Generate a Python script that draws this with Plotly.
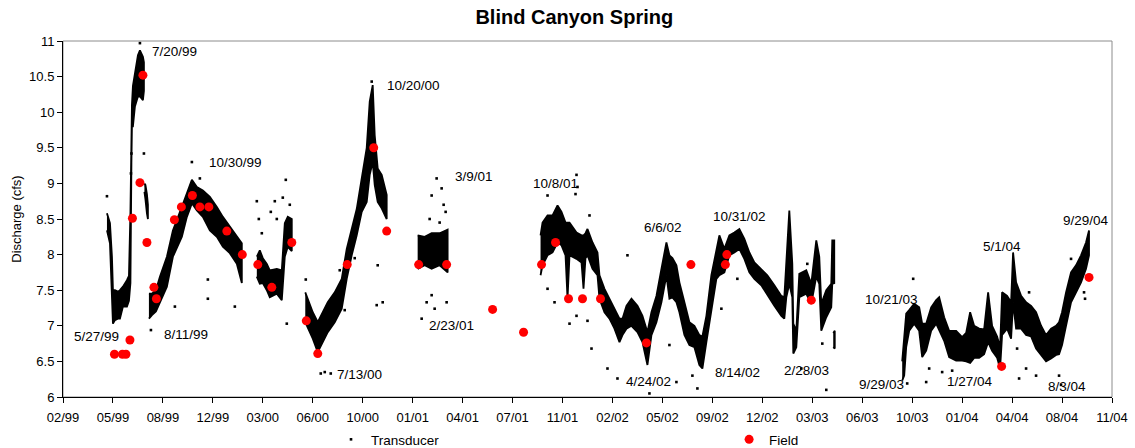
import plotly.graph_objects as go
import pandas as pd

# ---------------- Data ----------------
# Transducer record, summarised as the lower / upper edge of the dense band of readings.
# None separates the recording periods (gaps in the record).
trans_dates = [
    "1999-05-08", "1999-05-14", "1999-05-18", "1999-05-20", "1999-05-24", "1999-05-30",
    "1999-06-03", "1999-06-09", "1999-06-17", "1999-06-21", "1999-06-24", "1999-06-26",
    "1999-06-27", "1999-06-29", "1999-07-03", "1999-07-09", "1999-07-13", "1999-07-19",
    "1999-07-21", None,
    "1999-07-22", "1999-07-24", "1999-07-27", "1999-07-29", None,
    "1999-07-31", "1999-08-06", "1999-08-14", "1999-08-22", "1999-09-05", "1999-09-17",
    "1999-10-05", "1999-10-15", "1999-10-25", "1999-11-04", "1999-11-16", "1999-11-30",
    "1999-12-14", "1999-12-26", "2000-01-09", "2000-01-23", "2000-02-02", None,
    "2000-03-03", "2000-03-09", "2000-03-15", "2000-03-23", "2000-03-29", "2000-04-12",
    "2000-04-22", "2000-04-26", "2000-04-28", "2000-05-04", "2000-05-12", None,
    "2000-06-08", "2000-06-13", "2000-06-23", "2000-07-03", "2000-07-13", "2000-07-23",
    "2000-08-06", "2000-08-20", "2000-08-30", "2000-09-09", "2000-09-19", "2000-09-29",
    "2000-10-09", "2000-10-15", "2000-10-21", "2000-10-25", "2000-10-31", "2000-11-08",
    "2000-11-18", None,
    "2001-01-19", "2001-02-02", "2001-02-16", "2001-03-04", "2001-03-20", None,
    "2001-09-22", "2001-09-26", "2001-10-06", "2001-10-16", "2001-10-26", "2001-11-03",
    "2001-11-11", "2001-11-15", "2001-11-19", "2001-12-03", "2001-12-13", "2001-12-17",
    "2001-12-21", "2001-12-25", "2002-01-04", "2002-01-14", "2002-01-18", "2002-01-28",
    "2002-02-07", "2002-02-17", "2002-02-27", "2002-03-05", "2002-03-13", "2002-03-23",
    "2002-04-04", "2002-04-14", "2002-04-24", "2002-05-02", "2002-05-12", "2002-05-22",
    "2002-06-01", "2002-06-07", "2002-06-13", "2002-06-21", "2002-06-27", "2002-07-07",
    "2002-07-17", "2002-07-27", "2002-08-06", "2002-08-12", "2002-08-20", "2002-08-30",
    "2002-09-09", "2002-09-15", "2002-09-25", "2002-10-05", "2002-10-15", "2002-10-25",
    "2002-11-04", "2002-11-14", "2002-11-24", "2002-12-08", "2002-12-20", "2003-01-03",
    "2003-01-17", "2003-01-23", "2003-01-27", "2003-02-02", "2003-02-08", "2003-02-10",
    "2003-02-16", "2003-02-22", "2003-03-08", "2003-03-18", "2003-03-28", "2003-04-03",
    "2003-04-07", "2003-04-17", "2003-04-27", "2003-04-29", "2003-05-03", None,
    "2003-05-01", "2003-05-04", None,
    "2003-09-16", "2003-09-20", "2003-09-24", "2003-09-30", "2003-10-10", "2003-10-20",
    "2003-10-26", "2003-11-03", "2003-11-13", "2003-11-23", "2003-11-29", "2003-12-09",
    "2003-12-19", "2004-01-02", "2004-01-14", "2004-01-22", "2004-01-30", "2004-02-07",
    "2004-02-17", "2004-02-27", "2004-03-06", "2004-03-14", "2004-03-24", "2004-03-30",
    "2004-04-03", "2004-04-13", "2004-04-21", "2004-04-25", "2004-05-01", "2004-05-11",
    "2004-05-21", "2004-05-31", "2004-06-10", "2004-06-20", "2004-06-30", "2004-07-10",
    "2004-07-20", "2004-07-26", "2004-08-01", "2004-08-09", "2004-08-19", "2004-08-29",
    "2004-09-08", "2004-09-18", "2004-09-24",
]
trans_low = [
    8.34, 8.16, 7.50, 7.03, 7.08, 7.10,
    7.10, 7.27, 7.27, 7.35, 7.60, 9.30,
    9.80, 9.80, 10.08, 10.22, 10.22, 10.17,
    10.30, None,
    8.88, 8.78, 8.58, 8.50, None,
    7.10, 7.15, 7.20, 7.31, 7.55, 7.97,
    8.25, 8.53, 8.72, 8.62, 8.53, 8.34,
    8.25, 8.11, 8.02, 7.87, 7.60, None,
    7.69, 7.59, 7.60, 7.50, 7.40, 7.45,
    7.36, 7.80, 7.97, 8.11, 8.05, None,
    7.05, 6.96, 6.82, 6.63, 6.77, 6.91,
    7.05, 7.24, 7.66, 7.99, 8.27, 8.60,
    8.74, 9.12, 9.30, 8.98, 8.74, 8.65,
    8.50, None,
    7.80, 7.85, 7.80, 7.85, 7.75, None,
    7.71, 7.85, 7.99, 8.03, 8.17, 8.13,
    7.99, 7.38, 7.99, 7.94, 7.89, 7.52,
    7.95, 7.99, 7.80, 7.71, 7.38, 7.19,
    7.10, 6.96, 6.77, 6.87, 6.96, 7.00,
    6.91, 6.77, 6.45, 6.87, 7.05, 7.33,
    7.71, 7.38, 7.40, 7.33, 7.19, 6.87,
    6.73, 6.70, 6.45, 6.40, 6.77, 7.24,
    7.66, 7.71, 7.75, 7.99, 8.03, 8.08,
    7.94, 7.75, 7.66, 7.57, 7.43, 7.28,
    7.14, 7.10, 7.40, 7.59, 7.40, 6.61,
    6.70, 7.40, 7.45, 7.31, 7.69, 7.59,
    6.93, 7.12, 7.26, 7.59, 7.60, None,
    6.70, 6.68, None,
    6.23, 6.30, 6.70, 6.93, 7.03, 6.93,
    6.56, 6.65, 6.93, 7.03, 6.93, 6.79,
    6.56, 6.51, 6.51, 6.50, 6.48, 6.55,
    6.55, 6.60, 6.77, 6.65, 6.55, 6.40,
    6.87, 6.96, 6.82, 7.33, 6.96, 6.96,
    6.87, 6.85, 6.68, 6.59, 6.50, 6.54,
    6.59, 6.60, 6.73, 7.00, 7.33, 7.47,
    7.61, 7.80, 7.99,
]
trans_high = [
    8.58, 8.44, 7.97, 7.50, 7.50, 7.48,
    7.50, 7.55, 7.64, 7.70, 8.60, 9.90,
    10.10, 10.37, 10.55, 10.80, 10.87, 10.78,
    10.70, None,
    9.00, 8.98, 8.85, 8.70, None,
    7.45, 7.45, 7.50, 7.69, 7.97, 8.34,
    8.67, 8.86, 9.05, 8.95, 8.90, 8.81,
    8.67, 8.53, 8.39, 8.25, 8.16, None,
    7.97, 8.06, 7.95, 7.87, 7.78, 7.80,
    7.78, 8.30, 8.44, 8.53, 8.50, None,
    7.47, 7.38, 7.19, 7.05, 7.19, 7.33,
    7.47, 7.66, 8.08, 8.36, 8.64, 9.07,
    9.50, 10.15, 10.38, 9.68, 9.21, 9.12,
    8.84, None,
    8.27, 8.25, 8.30, 8.30, 8.35, None,
    8.27, 8.45, 8.55, 8.55, 8.69, 8.60,
    8.45, 8.45, 8.45, 8.31, 8.27, 8.27,
    8.30, 8.36, 8.17, 8.03, 7.71, 7.52,
    7.38, 7.24, 7.10, 7.10, 7.28, 7.38,
    7.28, 7.14, 6.91, 7.19, 7.42, 7.80,
    8.17, 7.99, 7.95, 7.85, 7.61, 7.33,
    7.05, 7.00, 6.87, 6.85, 7.14, 7.71,
    8.08, 8.27, 8.08, 8.27, 8.31, 8.36,
    8.22, 8.03, 7.89, 7.80, 7.71, 7.57,
    7.42, 7.40, 7.87, 8.62, 7.87, 7.03,
    6.93, 7.73, 7.78, 7.59, 8.20, 7.97,
    7.31, 7.50, 7.59, 8.20, 8.20, None,
    6.90, 6.93, None,
    6.50, 6.90, 7.17, 7.22, 7.31, 7.26,
    7.03, 7.03, 7.26, 7.36, 7.40, 7.12,
    6.93, 6.93, 6.84, 6.90, 7.19, 7.00,
    6.96, 6.95, 7.47, 7.00, 6.85, 6.70,
    7.47, 7.42, 7.33, 8.03, 7.61, 7.42,
    7.33, 7.28, 7.19, 7.00, 6.87, 6.96,
    7.00, 7.05, 7.19, 7.47, 7.75, 7.85,
    7.99, 8.17, 8.34,
]

# Isolated transducer readings lying outside the dense band
scatter_dates = [
    "1999-05-08", "1999-06-25", "1999-06-26", "1999-07-21", "1999-07-13", "1999-08-04",
    "1999-09-21", "1999-10-25", "1999-11-10", "1999-11-26", "1999-11-26", "2000-01-19",
    "2000-03-03", "2000-03-07", "2000-03-13", "2000-03-31", "2000-04-08", "2000-04-12",
    "2000-04-24", "2000-04-30", "2000-05-02", "2000-05-08", "2000-06-09", "2000-07-09",
    "2000-07-17", "2000-07-29", "2000-08-16", "2000-08-26", "2000-09-15", "2000-10-29",
    "2000-11-10", "2000-10-31", "2000-10-19", "2001-02-06", "2001-02-16", "2001-02-22",
    "2001-02-26", "2001-03-08", "2001-03-18", "2001-02-16", "2001-01-27", "2001-03-16",
    "2001-03-04", "2001-02-12", "2001-03-12", "2001-10-06", "2001-12-03", "2001-12-01",
    "2001-12-05", "2001-10-06", "2001-10-20", "2001-11-19", "2001-12-29", "2002-01-02",
    "2002-02-03", "2002-02-23", "2002-03-15", "2001-12-25", "2001-12-03", "2002-04-28",
    "2002-06-07", "2002-06-21", "2002-07-13", "2002-07-23", "2002-08-02", "2002-09-19",
    "2002-10-21", "2003-02-26", "2003-03-10", "2003-04-17", "2003-04-09", "2003-09-26",
    "2003-10-08", "2003-11-03", "2003-11-09", "2003-12-05", "2003-12-25", "2004-05-07",
    "2004-05-21", "2004-06-10", "2004-07-26", "2004-07-30", "2004-08-19", "2004-09-14",
    "2004-09-16", "2004-05-27", "2004-05-03",
]
scatter_values = [
    8.82, 9.14, 9.42, 9.42, 10.97, 6.94,
    7.27, 9.30, 9.07, 7.38, 7.65, 7.27,
    8.75, 8.50, 8.30, 8.60, 8.75, 8.50,
    8.80, 9.05, 7.03, 8.70, 7.65, 6.33,
    6.35, 6.33, 7.78, 7.22, 7.95, 7.29,
    7.33, 7.85, 10.43, 7.33, 7.43, 7.24,
    9.07, 8.93, 7.33, 8.83, 7.10, 8.60,
    8.45, 8.50, 8.70, 8.83, 9.12, 8.85,
    8.95, 7.52, 7.33, 7.03, 8.55, 6.68,
    6.40, 6.26, 7.99, 7.07, 7.14, 6.05,
    6.73, 6.21, 7.05, 6.30, 6.12, 7.24,
    7.66, 6.40, 7.87, 6.10, 6.75, 6.19,
    7.66, 6.21, 6.40, 6.35, 6.37, 6.26,
    6.40, 6.30, 6.30, 6.17, 7.94, 7.47,
    7.38, 7.47, 6.68,
]

# Field measurements
field_dates = [
    "1999-05-23", "1999-06-08", "1999-06-15", "1999-06-23", "1999-06-28", "1999-07-13",
    "1999-07-19", "1999-07-27", "1999-08-10", "1999-08-15", "1999-09-20", "1999-10-04",
    "1999-10-26", "1999-11-10", "1999-11-28", "2000-01-03", "2000-02-03", "2000-03-05",
    "2000-04-02", "2000-05-12", "2000-06-10", "2000-07-03", "2000-08-31", "2000-10-23",
    "2000-11-18", "2001-01-21", "2001-03-18", "2001-06-18", "2001-08-19", "2001-09-24",
    "2001-10-22", "2001-11-17", "2001-12-15", "2002-01-20", "2002-04-22", "2002-07-20",
    "2002-09-27", "2002-09-30", "2003-03-18", "2004-04-02", "2004-09-24",
]
field_values = [
    6.60, 6.60, 6.60, 6.80, 8.51, 9.01,
    10.52, 8.17, 7.54, 7.38, 8.49, 8.67,
    8.83, 8.67, 8.67, 8.33, 8.00, 7.86,
    7.54, 8.17, 7.07, 6.61, 7.86, 9.50,
    8.33, 7.86, 7.86, 7.23, 6.91, 7.86,
    8.17, 7.38, 7.38, 7.38, 6.76, 7.86,
    7.86, 8.00, 7.36, 6.43, 7.68,
]

# Date labels written on the chart
label_texts = [
    "7/20/99", "10/30/99", "5/27/99", "8/11/99", "7/13/00", "10/20/00", "3/9/01",
    "2/23/01", "10/8/01", "6/6/02", "4/24/02", "10/31/02", "8/14/02", "2/28/03",
    "9/29/03", "10/21/03", "1/27/04", "5/1/04", "9/29/04", "8/3/04",
]
label_dates = [
    "1999-08-02", "1999-11-24", "1999-02-27", "1999-08-26", "2000-08-06", "2000-11-14",
    "2001-03-30", "2001-02-06", "2001-09-02", "2002-04-14", "2002-03-09", "2002-08-30",
    "2002-09-03", "2003-01-19", "2003-06-18", "2003-06-30", "2003-12-11", "2004-02-21",
    "2004-07-30", "2004-06-30",
]
label_values = [
    10.85, 9.30, 6.85, 6.88, 6.32, 10.38, 9.09,
    7.01, 9.00, 8.38, 6.22, 8.54, 6.34, 6.37,
    6.18, 7.37, 6.22, 8.12, 8.48, 6.15,
]

x_start, x_end = "1999-02-09", "2004-11-09"   # axis limits, major tick every 100 days
y_min, y_max = 6, 11

# ---------------- Figure ----------------
FONT = "Arial, 'Liberation Sans', sans-serif"
fig = go.Figure()

# dense transducer band: one filled polygon per recording period
segments, cur = [], []
for d, lo, hi in zip(trans_dates, trans_low, trans_high):
    if d is None:
        if cur:
            segments.append(cur)
        cur = []
    else:
        cur.append((d, lo, hi))
if cur:
    segments.append(cur)

for seg in segments:
    xs = [s[0] for s in seg] + [s[0] for s in reversed(seg)]
    ys = [s[2] for s in seg] + [s[1] for s in reversed(seg)]
    fig.add_trace(go.Scatter(
        x=xs, y=ys, mode="lines", fill="toself", fillcolor="black",
        line=dict(color="black", width=1.8), showlegend=False,
        legendgroup="trans", hoverinfo="skip"))

fig.add_trace(go.Scatter(
    x=scatter_dates, y=scatter_values, mode="markers", name="Transducer",
    legendgroup="trans", legend="legend",
    marker=dict(color="black", size=2.6, symbol="square")))

fig.add_trace(go.Scatter(
    x=field_dates, y=field_values, mode="markers", name="Field", legend="legend2",
    marker=dict(color="#FF0000", size=9, line=dict(width=0))))

for t, d, v in zip(label_texts, label_dates, label_values):
    fig.add_annotation(x=d, y=v, text=t, showarrow=False, xanchor="left",
                       yanchor="middle", font=dict(family=FONT, size=13.5, color="black"))

tickvals = pd.date_range(x_start, x_end, freq="100D")

legend_style = dict(orientation="h", xanchor="left", y=-0.076, yanchor="top",
                    font=dict(family=FONT, size=13.5, color="black"),
                    bgcolor="rgba(0,0,0,0)")

fig.update_layout(
    width=1135, height=448,
    margin=dict(l=63, r=23, t=41, b=51, autoexpand=False),
    paper_bgcolor="white", plot_bgcolor="white",
    font=dict(family=FONT, size=13, color="black"),
    title=dict(text="<b>Blind Canyon Spring</b>", x=0.506, xanchor="center",
               y=1 - 17 / 448, yanchor="middle", yref="container",
               font=dict(family=FONT, size=20, color="black")),
    showlegend=True,
    legend=dict(x=0.2555, **legend_style),
    legend2=dict(x=0.635, **legend_style),
    shapes=[dict(type="rect", xref="paper", yref="paper", x0=0, x1=1, y0=0, y1=1,
                 line=dict(color="#8c8c8c", width=1), layer="below")],
)

fig.update_xaxes(
    type="date", range=[x_start, x_end], tickvals=tickvals, tickformat="%m/%y",
    ticks="outside", ticklen=5, tickcolor="black", showline=True, linecolor="black",
    linewidth=1, showgrid=False, zeroline=False, ticklabelstandoff=3,
    tickfont=dict(family=FONT, size=13, color="black"))

fig.update_yaxes(
    range=[y_min, y_max], tick0=6, dtick=0.5, ticks="outside", ticklen=5,
    tickcolor="black", showline=True, linecolor="black", linewidth=1,
    showgrid=False, zeroline=False,
    tickfont=dict(family=FONT, size=13, color="black"),
    title=dict(text="Discharge (cfs)", font=dict(family=FONT, size=13, color="black"),
               standoff=4))

fig.write_html("out.html")
